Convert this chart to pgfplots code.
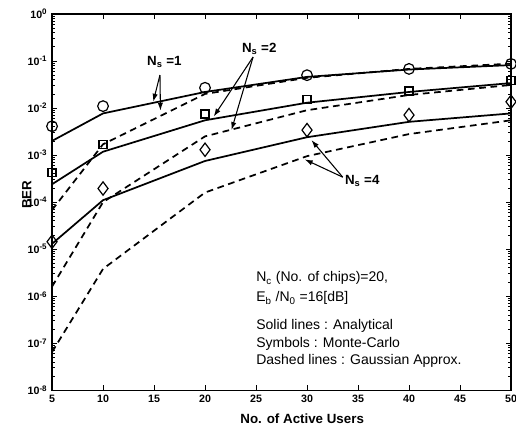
\documentclass[border=0pt]{standalone}
\usepackage{fontspec}
\setmainfont{Liberation Sans}
\usepackage{pgfplots}
\usepackage{pgfplotstable}
\pgfplotsset{compat=1.18}
\usetikzlibrary{arrows.meta}

% BER vs number of active users, Nc=20, Eb/N0=16 dB
% s = analytical (solid), d = Gaussian approx. (dashed), m = Monte-Carlo
\pgfplotstableread{
x   s1      d1      m1      s2      d2      m2      s4      d4      m4
5   2.0e-3  6.8e-5  4.1e-3  2.4e-4  1.6e-6  4.2e-4  1.3e-5  6.5e-8  1.44e-5
10  7.7e-3  1.7e-3  1.1e-2  1.18e-3 1.0e-4  1.7e-3  1.1e-4  3.8e-6  1.95e-4
20  2.2e-2  2.0e-2  2.7e-2  5.5e-3  2.5e-3  7.5e-3  7.5e-4  1.6e-4  1.3e-3
30  4.6e-2  4.4e-2  5.0e-2  1.3e-2  9.0e-3  1.5e-2  2.4e-3  9.5e-4  3.4e-3
40  6.6e-2  6.8e-2  6.8e-2  2.2e-2  1.9e-2  2.3e-2  5.1e-3  2.8e-3  7.1e-3
50  8.2e-2  8.8e-2  8.7e-2  3.4e-2  3.1e-2  3.8e-2  7.7e-3  5.5e-3  1.36e-2
}\bertable

\tikzset{
  ana/.style={black, line width=1.3pt, no marks},
  gau/.style={black, line width=1.3pt, no marks, dash pattern=on 5pt off 3.5pt},
  mc/.style={black, only marks, mark options={solid, line width=0.9pt, fill=none}},
  lbl/.style={-{Latex[length=6pt,width=4pt]}, line width=0.8pt},
}

\begin{document}
\begin{tikzpicture}
\begin{axis}[
  scale only axis, width=344pt, height=282pt,
  ymode=log, xmin=5, xmax=50, ymin=1e-8, ymax=1,
  xtick={5,10,...,50},
  ytick={1e-8,1e-7,1e-6,1e-5,1e-4,1e-3,1e-2,1e-1,1},
  yticklabels={10\textsuperscript{-8},10\textsuperscript{-7},10\textsuperscript{-6},
    10\textsuperscript{-5},10\textsuperscript{-4},10\textsuperscript{-3},
    10\textsuperscript{-2},10\textsuperscript{-1},10\textsuperscript{0}},
  tick align=inside, major tick length=4pt, minor tick length=2.5pt,
  every tick/.style={black, line width=0.6pt},
  axis line style={line width=0.9pt},
  tick label style={font=\bfseries\fontsize{8}{9}\selectfont},
  /pgf/number format/assume math mode=true,
  xlabel={No. of Active Users}, ylabel={BER},
  label style={font=\bfseries\fontsize{10}{12}\selectfont},
  xlabel style={at={(axis description cs:0.545,0)}, anchor=center, yshift=-21pt},
  ylabel style={at={(axis description cs:0,0.52)}, anchor=center, yshift=19pt},
  clip=false,
]
\addplot[ana] table[x=x, y=s1] {\bertable};
\addplot[gau] table[x=x, y=d1] {\bertable};
\addplot[mc, mark=o, mark size=4pt] table[x=x, y=m1] {\bertable};

\addplot[ana] table[x=x, y=s2] {\bertable};
\addplot[gau] table[x=x, y=d2] {\bertable};
\addplot[mc, mark=square, mark size=3pt] table[x=x, y=m2] {\bertable};

\addplot[ana] table[x=x, y=s4] {\bertable};
\addplot[gau] table[x=x, y=d4] {\bertable};
\addplot[mc, mark=diamond, mark size=5pt] table[x=x, y=m4] {\bertable};

% labels and arrows
\node[anchor=base west, font=\bfseries\fontsize{10}{12}\selectfont, inner sep=0pt]
  at (axis cs:14.3,0.0822) {N\textsubscript{s} =1};
\draw[lbl] (axis cs:15.58,0.0504) -- (axis cs:14.92,1.36e-2);
\draw[lbl] (axis cs:15.58,0.0504) -- (axis cs:15.63,8.77e-3);

\node[anchor=base west, font=\bfseries\fontsize{10}{12}\selectfont, inner sep=0pt]
  at (axis cs:23.6,0.153) {N\textsubscript{s} =2};
\draw[lbl] (axis cs:24.71,0.1217) -- (axis cs:20.85,6.6e-3);
\draw[lbl] (axis cs:24.71,0.1217) -- (axis cs:22.59,3.4e-3);

\node[anchor=base west, font=\bfseries\fontsize{10}{12}\selectfont, inner sep=0pt]
  at (axis cs:33.7,2.41e-4) {N\textsubscript{s} =4};
\draw[lbl] (axis cs:33.5,3.4e-4) -- (axis cs:30.43,2.09e-3);
\draw[lbl] (axis cs:33.5,3.4e-4) -- (axis cs:29.77,8.1e-4);

% parameter text
\begin{scope}[every node/.style={anchor=base west, inner sep=0pt, font=\fontsize{10.5}{12}\selectfont}]
\node at (axis cs:25,2.01e-6) {N\textsubscript{c} (No. of chips)=20,};
\node at (axis cs:25,7.57e-7) {E\textsubscript{b} /N\textsubscript{0} =16[dB]};
\node at (axis cs:25,1.95e-7) {Solid lines : Analytical};
\node at (axis cs:25,8.3e-8) {Symbols : Monte-Carlo};
\node at (axis cs:25,3.57e-8) {Dashed lines : Gaussian Approx.};
\end{scope}

\coordinate (bl) at (rel axis cs:0,0);
\coordinate (tr) at (rel axis cs:1,1);
\end{axis}
\pgfresetboundingbox
\useasboundingbox ([xshift=-39pt,yshift=-27.75pt]bl) rectangle ([xshift=3.75pt,yshift=10.5pt]tr);
\end{tikzpicture}
\end{document}
